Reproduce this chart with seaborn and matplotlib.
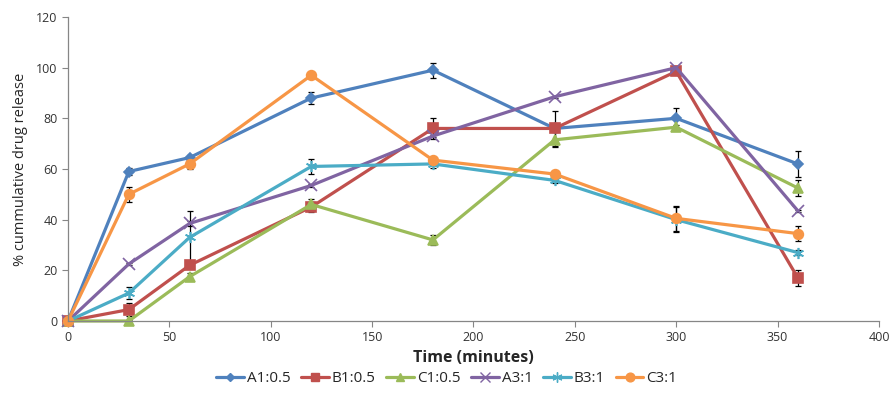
import numpy as np
import pandas as pd
import matplotlib
matplotlib.use("Agg")
import matplotlib.pyplot as plt
import seaborn as sns
from matplotlib.lines import Line2D

time = [0, 30, 60, 120, 180, 240, 300, 360]
series_names = ["A1:0.5", "B1:0.5", "C1:0.5", "A3:1", "B3:1", "C3:1"]
A1 = [0, 59, 64.5, 88, 99, 76, 80, 62]
B1 = [0, 4.5, 22, 45, 76, 76, 98.5, 17]
C1 = [0, 0, 17.5, 46, 32, 71.5, 76.5, 52.5]
A3 = [0, 22.5, 38.5, 53.5, 73, 88.5, 100, 43.5]
B3 = [0, 11, 33, 61, 62, 55.5, 40, 27]
C3 = [0, 50, 62, 97, 63.5, 58, 40.5, 34.5]
A1_err = [0, 1.5, 1, 2.5, 3, 0.5, 4, 5]
B1_err = [0, 2.5, 1, 2, 4, 7, 1, 3]
C1_err = [0, 0.5, 1.5, 2, 2, 3, 1, 3]
A3_err = [0, 0.5, 1, 0.5, 0.5, 0.5, 0.5, 0.5]
B3_err = [0, 2.5, 10.5, 3, 1.5, 1, 5, 1]
C3_err = [0, 3, 2, 0.5, 0.5, 0.5, 5, 3]

values = [A1, B1, C1, A3, B3, C3]
errors = [A1_err, B1_err, C1_err, A3_err, B3_err, C3_err]
colors = ["#4F81BD", "#C0504D", "#9BBB59", "#8064A2", "#4BACC6", "#F79646"]
markers = ["D", "s", "^", "x", (6, 2, 0), "o"]
msizes = [5, 7, 7, 8, 8, 7]

rows = []
for name, vals, errs in zip(series_names, values, errors):
    for t, v, e in zip(time, vals, errs):
        rows.append({"time": t, "release": v, "err": e, "series": name})
df = pd.DataFrame(rows)

sns.set_style("white")
plt.rcParams["font.family"] = ["Open Sans", "DejaVu Sans"]

fig = plt.figure(figsize=(8.9, 3.94), dpi=100)
ax = fig.add_axes([0.0764, 0.1853, 0.9112, 0.7716])

for name, col, mk, ms in zip(series_names, colors, markers, msizes):
    sub = df[df.series == name]
    ax.errorbar(sub.time, sub.release, yerr=sub.err, fmt="none", ecolor="black",
                elinewidth=0.9, capsize=2.5, capthick=0.9, zorder=1)
    sns.lineplot(data=sub, x="time", y="release", color=col, marker=mk,
                 markersize=ms, markeredgecolor=col, markeredgewidth=1.2,
                 linewidth=2.3, ax=ax, label=name, zorder=2, legend=False,
                 clip_on=False)

ax.set_xlim(0, 400)
ax.set_ylim(0, 120)
ax.set_xticks(np.arange(0, 401, 50))
ax.set_yticks(np.arange(0, 121, 20))
for s in ["top", "right"]:
    ax.spines[s].set_visible(False)
for s in ["left", "bottom"]:
    ax.spines[s].set_color("#868686")
    ax.spines[s].set_linewidth(0.9)
ax.tick_params(axis="both", which="both", length=4, color="#868686",
               labelsize=9, labelcolor="#333333", direction="out")
ax.tick_params(axis="x", bottom=True)
ax.tick_params(axis="y", left=True)
ax.set_xlabel("Time (minutes)", fontsize=11.5, fontweight="bold", labelpad=4)
ax.set_ylabel("% cummulative drug release", fontsize=10.5, labelpad=6)

handles = [Line2D([0], [0], color=c, marker=m, markersize=ms * 0.9, markeredgecolor=c,
                  linewidth=2.3) for c, m, ms in zip(colors, markers, msizes)]
fig.legend(handles, series_names, loc="lower center", ncol=6, frameon=False,
           bbox_to_anchor=(0.502, -0.015), fontsize=11, handlelength=1.8,
           handletextpad=0.2, columnspacing=0.7)

fig.savefig("out.png", dpi=100)
